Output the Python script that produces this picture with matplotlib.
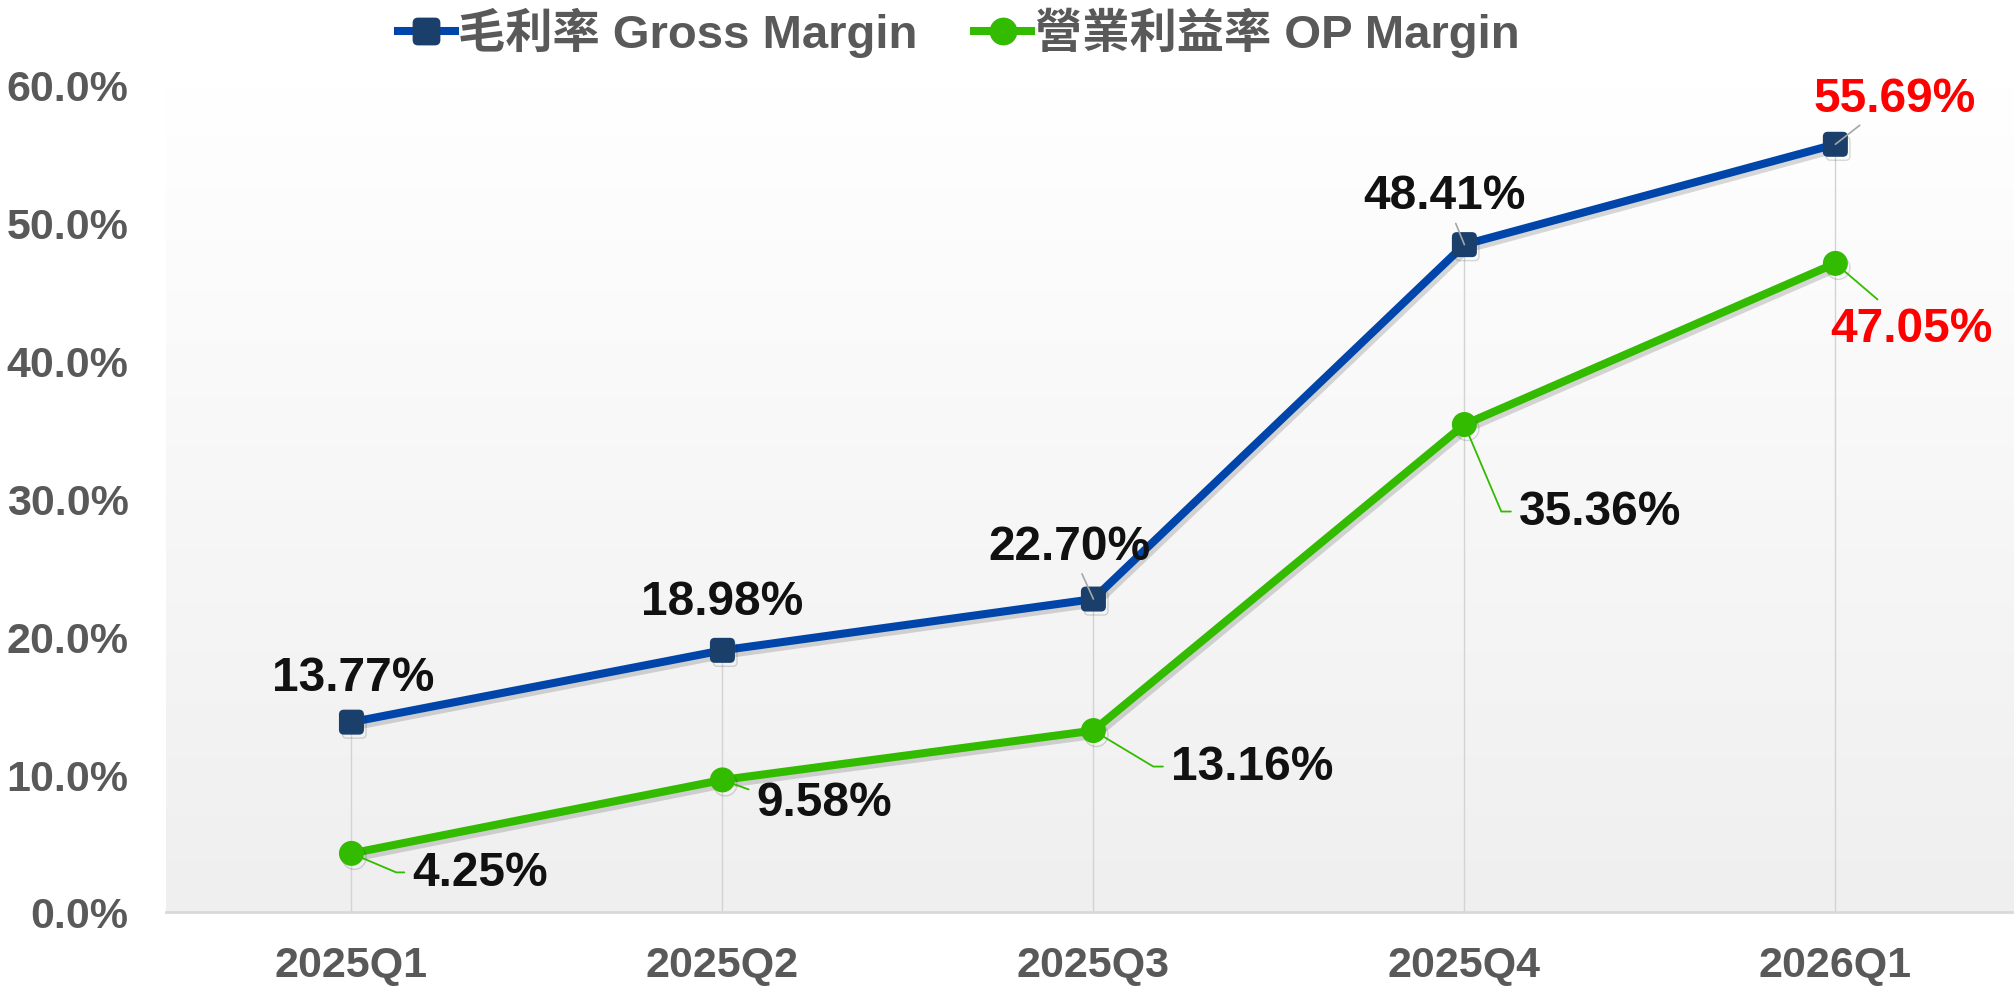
import numpy as np
import matplotlib
matplotlib.use("Agg")
import matplotlib.pyplot as plt
import matplotlib.patheffects as pe
from matplotlib.colors import LinearSegmentedColormap
from matplotlib.patches import FancyBboxPatch
from matplotlib.lines import Line2D

# data
quarters = ["2025Q1", "2025Q2", "2025Q3", "2025Q4", "2026Q1"]
gross_margin = [13.77, 18.98, 22.70, 48.41, 55.69]
op_margin = [4.25, 9.58, 13.16, 35.36, 47.05]
y_ticks = [0, 10, 20, 30, 40, 50, 60]
legend_labels = ["毛利率 Gross Margin", "營業利益率 OP Margin"]

# label placement (pixel offsets from the point)
gross_offsets = [(2, 45), (0, 49), (-24, 53), (-20, 49), (59, 46)]
gross_leader = [False, False, True, True, True]
op_offsets = [(129, -19), (102, -23), (159, -36), (136, -87), (76, -65)]
op_leader = ["angle,angleA=0,angleB=-23", "angle,angleA=0,angleB=-20",
             "angle,angleA=0,angleB=-31", "angle,angleA=0,angleB=-67", "arc3"]

BLUE = "#0046AA"
NAVY = "#1B3F6B"
GREEN = "#33BB00"
GRAY = "#595959"
LATIN = "Liberation Sans"
CJK = ["Liberation Sans", "Noto Sans CJK TC", "DejaVu Sans"]

# rounded square marker
sq = FancyBboxPatch((-0.5, -0.5), 1, 1, boxstyle="round,pad=0,rounding_size=0.18").get_path()

fig = plt.figure(figsize=(20.14, 9.87), dpi=100)
ax = fig.add_axes([0.0824, 0.075, 0.921, 0.838])

x = np.arange(len(quarters))
ax.set_xlim(-0.5, 4.5)
ax.set_ylim(0, 60)

# plot-area gradient
cmap = LinearSegmentedColormap.from_list("bg", ["#EFEFEF", "#FFFFFF"])
grad = np.linspace(0, 1, 256).reshape(-1, 1)
ax.imshow(grad, extent=(-0.5, 4.5, 0, 60), origin="lower", aspect="auto",
          cmap=cmap, zorder=0)

# drop lines
ax.vlines(x, 0, np.maximum(gross_margin, op_margin), color="#D3D3D3", lw=1.0, zorder=1)

shadow = [pe.SimpleLineShadow(offset=(2, -3), alpha=0.15, shadow_color="black"), pe.Normal()]
ax.plot(x, gross_margin, color=BLUE, lw=5.8, marker=sq, ms=17, mfc=NAVY, mec=NAVY,
        zorder=3, path_effects=shadow, solid_capstyle="round")
ax.plot(x, op_margin, color=GREEN, lw=5.8, marker="o", ms=17, mfc=GREEN, mec=GREEN,
        zorder=3, path_effects=shadow, solid_capstyle="round")

for i, v in enumerate(gross_margin):
    col = "red" if i == len(gross_margin) - 1 else "#111111"
    arrow = dict(arrowstyle="-", color="#A6A6A6", lw=1.2, shrinkA=2, shrinkB=0) if gross_leader[i] else None
    ax.annotate(f"{v:.2f}%", (x[i], v), xytext=gross_offsets[i], textcoords="offset pixels",
                ha="center", va="center", fontsize=34.5, fontweight="bold", color=col,
                family=LATIN, arrowprops=arrow, zorder=5)

for i, v in enumerate(op_margin):
    col = "red" if i == len(op_margin) - 1 else "#111111"
    arrow = dict(arrowstyle="-", color=GREEN, lw=1.3, shrinkA=4, shrinkB=0,
                 connectionstyle=op_leader[i])
    ax.annotate(f"{v:.2f}%", (x[i], v), xytext=op_offsets[i], textcoords="offset pixels",
                ha="center", va="center", fontsize=34.5, fontweight="bold", color=col,
                family=LATIN, arrowprops=arrow, zorder=5)

# axes styling
for s in ["top", "right", "left"]:
    ax.spines[s].set_visible(False)
ax.spines["bottom"].set_color("#D9D9D9")
ax.spines["bottom"].set_linewidth(2)
ax.spines["bottom"].set_zorder(2)

ax.set_xticks(x)
ax.set_xticklabels(quarters)
ax.set_yticks(y_ticks)
ax.set_yticklabels([f"{t:.1f}%" for t in y_ticks])
ax.tick_params(axis="x", length=0, pad=24, labelsize=31, labelcolor=GRAY)
ax.tick_params(axis="y", length=0, pad=27, labelsize=31, labelcolor=GRAY)
for lab in ax.get_xticklabels() + ax.get_yticklabels():
    lab.set_fontweight("bold")
    lab.set_family(LATIN)

# legend
handles = [
    Line2D([], [], color=BLUE, lw=5.8, marker=sq, ms=19, mfc=NAVY, mec=NAVY),
    Line2D([], [], color=GREEN, lw=5.8, marker="o", ms=19, mfc=GREEN, mec=GREEN),
]
leg = fig.legend(handles, legend_labels, loc="upper center", bbox_to_anchor=(0.476, 1.035),
                 ncol=2, frameon=False, handlelength=1.2, handletextpad=0.08,
                 columnspacing=1.2, prop=dict(family=CJK, size=34, weight="bold"))
for t in leg.get_texts():
    t.set_color(GRAY)

fig.savefig("out.png", dpi=100, facecolor="white")
